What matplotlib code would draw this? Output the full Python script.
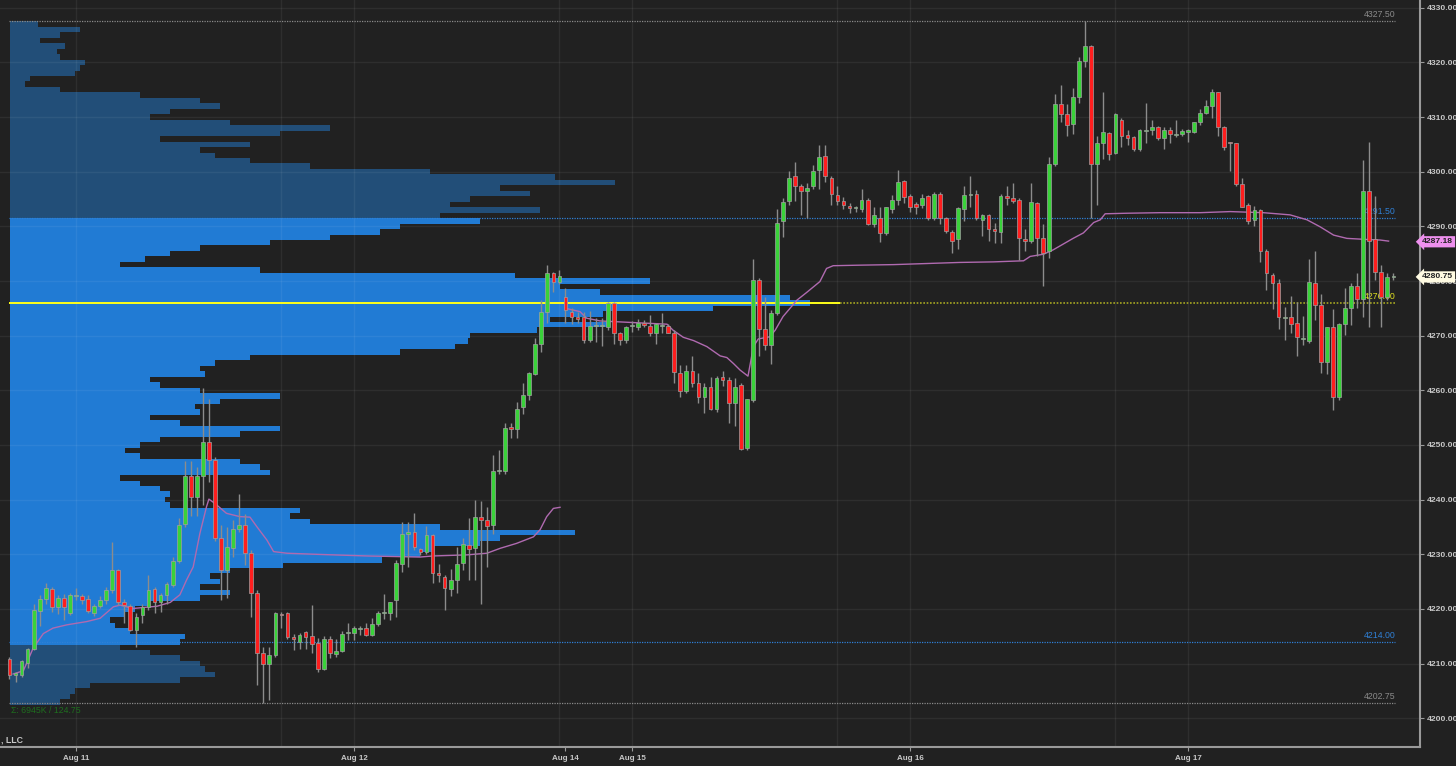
import matplotlib
matplotlib.use("Agg")
import matplotlib.pyplot as plt
import matplotlib.transforms as mtransforms
import numpy as np

# 30 minute bars, index 0 = first bar on the chart
opens = [
    4210.8, 4208.0, 4207.9, 4210.1, 4212.6, 4219.6, 4221.8, 4223.6, 4220.3, 4222.1,
    4219.2, 4222.4, 4222.4, 4221.8, 4219.2, 4220.5, 4221.6, 4223.4, 4227.1, 4221.3,
    4220.5, 4216.2, 4218.9, 4220.3, 4223.6, 4221.3, 4222.6, 4224.4, 4228.7, 4235.5,
    4244.3, 4240.5, 4244.3, 4250.5, 4247.2, 4232.9, 4227.1, 4231.1, 4234.6, 4235.4,
    4230.3, 4223.0, 4212.0, 4209.9, 4211.6, 4219.1, 4219.2, 4214.8, 4213.9, 4215.7,
    4215.1, 4213.8, 4209.1, 4214.5, 4211.8, 4212.4, 4215.6, 4215.6, 4216.4, 4216.5,
    4215.2, 4217.3, 4219.3, 4219.2, 4221.6, 4228.2, 4233.8, 4234.1, 4230.9, 4230.5,
    4233.5, 4226.6, 4225.9, 4223.6, 4225.3, 4228.4, 4231.7, 4231.2, 4236.9, 4236.2,
    4235.4, 4245.2, 4245.3, 4253.3, 4252.9, 4256.9, 4259.1, 4263.0, 4268.4, 4274.4,
    4281.4, 4279.9, 4277.1, 4274.4, 4273.5, 4273.5, 4269.2, 4271.8, 4271.8, 4271.5,
    4275.9, 4270.4, 4269.2, 4271.8, 4271.5, 4272.4, 4271.8, 4270.4, 4271.8, 4271.8,
    4270.5, 4263.1, 4259.8, 4263.6, 4261.4, 4258.8, 4260.7, 4256.5, 4262.5, 4261.9,
    4257.6, 4261.0, 4249.4, 4258.2, 4280.2, 4271.2, 4268.3, 4274.2, 4290.9, 4294.7,
    4299.3, 4297.3, 4296.5, 4297.3, 4300.4, 4302.9, 4298.9, 4295.7, 4294.7, 4293.7,
    4293.3, 4293.2, 4294.9, 4290.4, 4291.6, 4288.7, 4293.2, 4294.9, 4298.3, 4295.6,
    4294.1, 4293.9, 4295.5, 4291.6, 4296.0, 4291.5, 4289.0, 4287.6, 4293.2, 4295.7,
    4296.0, 4291.2, 4292.0, 4289.6, 4288.9, 4295.6, 4295.1, 4294.9, 4287.7, 4287.4,
    4294.2, 4287.9, 4285.4, 4301.4, 4312.4, 4310.5, 4308.7, 4313.7, 4320.2, 4323.0,
    4301.4, 4305.2, 4307.0, 4303.4, 4309.5, 4306.7, 4306.3, 4304.1, 4307.5, 4307.7,
    4308.1, 4306.1, 4307.7, 4306.7, 4306.9, 4307.3, 4307.3, 4309.0, 4310.7, 4312.0,
    4314.5, 4308.2, 4305.4, 4305.2, 4297.7, 4293.9, 4291.2, 4293.0, 4285.5, 4281.1,
    4279.7, 4273.2, 4273.4, 4272.3, 4269.4, 4269.1, 4279.7, 4275.6, 4265.1, 4271.5,
    4258.8, 4272.1, 4275.1, 4279.0, 4276.8, 4296.5, 4287.6, 4281.6, 4277.0, 4280.7,
]
highs = [
    4211.2, 4208.5, 4210.7, 4212.8, 4220.9, 4222.6, 4224.7, 4224.0, 4222.6, 4222.7,
    4222.9, 4223.8, 4222.7, 4222.6, 4221.0, 4222.3, 4224.0, 4232.3, 4227.4, 4221.9,
    4221.0, 4219.2, 4221.0, 4226.2, 4224.0, 4222.9, 4225.0, 4229.6, 4236.6, 4247.1,
    4247.1, 4245.9, 4260.5, 4258.5, 4247.8, 4235.4, 4235.0, 4236.3, 4241.0, 4237.4,
    4230.8, 4223.5, 4213.1, 4213.1, 4219.5, 4219.5, 4219.5, 4215.5, 4215.6, 4215.9,
    4220.7, 4214.6, 4215.0, 4215.0, 4214.5, 4216.0, 4217.4, 4216.8, 4216.9, 4217.4,
    4218.3, 4219.7, 4222.7, 4221.3, 4229.0, 4236.0, 4236.0, 4237.5, 4231.2, 4235.2,
    4233.7, 4228.2, 4226.2, 4227.4, 4231.4, 4232.9, 4236.6, 4239.9, 4239.8, 4238.6,
    4248.2, 4249.1, 4254.0, 4254.0, 4257.8, 4261.3, 4263.4, 4269.5, 4276.5, 4282.9,
    4281.7, 4282.1, 4278.7, 4275.0, 4274.4, 4274.4, 4274.5, 4273.2, 4273.2, 4276.2,
    4276.2, 4270.7, 4271.8, 4272.6, 4273.0, 4272.9, 4273.8, 4272.4, 4274.1, 4272.1,
    4271.0, 4264.6, 4264.6, 4266.3, 4263.2, 4261.3, 4262.5, 4262.6, 4263.6, 4262.5,
    4262.2, 4261.4, 4258.5, 4284.1, 4280.5, 4277.1, 4274.7, 4293.2, 4295.1, 4300.1,
    4301.7, 4297.7, 4297.9, 4301.2, 4304.9, 4304.9, 4299.3, 4297.3, 4295.4, 4294.2,
    4293.7, 4296.8, 4295.1, 4293.6, 4293.6, 4293.6, 4295.7, 4300.4, 4298.5, 4296.0,
    4294.5, 4295.9, 4295.7, 4296.2, 4296.2, 4291.8, 4289.3, 4293.6, 4297.4, 4299.2,
    4296.6, 4292.2, 4292.2, 4290.7, 4295.9, 4297.3, 4297.9, 4295.1, 4289.5, 4297.9,
    4294.5, 4290.5, 4302.6, 4314.2, 4315.9, 4312.4, 4315.4, 4321.0, 4327.5, 4323.2,
    4306.5, 4314.6, 4307.3, 4310.7, 4309.8, 4307.7, 4306.5, 4307.9, 4312.6, 4309.5,
    4308.4, 4308.2, 4308.2, 4309.5, 4307.8, 4307.9, 4309.1, 4311.4, 4313.2, 4315.2,
    4314.6, 4308.4, 4305.5, 4305.3, 4298.8, 4294.3, 4293.7, 4293.1, 4285.8, 4281.5,
    4280.3, 4275.3, 4277.3, 4276.2, 4273.6, 4284.1, 4285.4, 4277.7, 4271.5, 4274.8,
    4272.3, 4278.7, 4279.6, 4281.4, 4302.1, 4305.5, 4295.5, 4282.9, 4281.5, 4281.5,
]
lows = [
    4207.1, 4206.7, 4207.6, 4209.2, 4212.5, 4216.8, 4221.0, 4219.5, 4219.1, 4218.0,
    4218.9, 4221.6, 4221.0, 4219.2, 4218.7, 4220.1, 4221.0, 4222.9, 4220.7, 4217.4,
    4215.9, 4213.1, 4217.4, 4219.8, 4219.2, 4219.5, 4221.0, 4224.0, 4228.4, 4235.0,
    4237.0, 4237.0, 4239.0, 4243.2, 4232.5, 4221.6, 4222.0, 4229.6, 4234.1, 4228.0,
    4218.6, 4206.1, 4202.75, 4203.4, 4211.3, 4216.5, 4214.5, 4212.5, 4212.7, 4212.7,
    4212.0, 4208.4, 4208.8, 4211.1, 4211.2, 4212.2, 4214.3, 4214.3, 4215.3, 4215.0,
    4215.0, 4216.9, 4218.1, 4218.0, 4218.6, 4226.8, 4227.7, 4230.8, 4229.9, 4230.1,
    4224.8, 4225.0, 4219.8, 4222.4, 4222.9, 4227.1, 4225.3, 4225.3, 4221.0, 4227.7,
    4233.8, 4244.7, 4244.7, 4251.2, 4251.2, 4255.7, 4258.2, 4262.8, 4267.1, 4272.3,
    4277.9, 4279.4, 4272.3, 4272.1, 4272.3, 4268.7, 4268.9, 4268.9, 4268.1, 4271.0,
    4268.5, 4268.3, 4268.6, 4270.7, 4271.1, 4271.6, 4269.9, 4268.5, 4270.4, 4270.4,
    4261.4, 4258.8, 4259.5, 4260.7, 4257.6, 4255.9, 4256.4, 4256.0, 4260.8, 4254.0,
    4253.5, 4249.1, 4249.1, 4257.9, 4266.3, 4267.4, 4264.9, 4273.8, 4288.0, 4293.9,
    4294.7, 4292.0, 4291.6, 4296.9, 4296.9, 4298.2, 4293.9, 4293.9, 4293.2, 4292.5,
    4292.7, 4292.7, 4290.2, 4289.9, 4287.2, 4288.4, 4292.4, 4293.9, 4294.2, 4292.7,
    4292.2, 4293.3, 4291.2, 4291.2, 4290.5, 4288.7, 4285.1, 4285.8, 4290.9, 4293.6,
    4291.2, 4288.2, 4287.4, 4286.9, 4286.9, 4293.9, 4294.2, 4283.8, 4285.5, 4286.9,
    4284.5, 4279.0, 4284.3, 4301.0, 4309.1, 4306.5, 4306.9, 4312.6, 4319.2, 4291.6,
    4293.9, 4302.4, 4302.1, 4303.2, 4304.6, 4304.9, 4303.8, 4303.8, 4305.2, 4306.7,
    4305.8, 4304.1, 4305.3, 4306.4, 4306.5, 4305.5, 4307.0, 4308.6, 4310.5, 4309.8,
    4306.5, 4304.0, 4300.2, 4297.4, 4293.5, 4290.5, 4290.1, 4283.5, 4278.4, 4274.8,
    4271.2, 4269.3, 4270.4, 4266.3, 4268.3, 4268.6, 4272.8, 4263.1, 4263.0, 4256.4,
    4258.3, 4270.1, 4272.0, 4275.0, 4273.5, 4271.6, 4280.2, 4271.6, 4276.5, 4280.2,
]
closes = [
    4207.9, 4208.3, 4210.4, 4212.6, 4219.8, 4221.8, 4223.8, 4220.3, 4222.1, 4220.4,
    4222.6, 4222.5, 4221.6, 4219.6, 4220.5, 4221.6, 4223.4, 4227.1, 4221.3, 4220.7,
    4216.2, 4218.6, 4220.3, 4223.4, 4221.3, 4222.6, 4224.6, 4228.7, 4235.4, 4244.3,
    4240.5, 4244.3, 4250.5, 4247.2, 4232.9, 4227.1, 4231.4, 4234.6, 4235.4, 4230.2,
    4222.9, 4212.0, 4209.9, 4211.6, 4219.2, 4218.9, 4214.8, 4214.5, 4215.2, 4214.8,
    4213.6, 4209.1, 4214.5, 4212.0, 4212.4, 4215.5, 4215.6, 4216.5, 4216.5, 4215.2,
    4217.3, 4219.3, 4219.3, 4221.3, 4228.4, 4233.8, 4234.1, 4231.4, 4230.4, 4233.5,
    4226.6, 4226.2, 4223.8, 4225.3, 4228.2, 4231.8, 4230.9, 4236.9, 4236.2, 4235.1,
    4245.2, 4245.3, 4253.2, 4252.9, 4256.6, 4259.1, 4263.1, 4268.4, 4274.4, 4281.4,
    4279.9, 4280.9, 4274.7, 4273.5, 4273.0, 4269.2, 4271.8, 4271.8, 4271.8, 4275.9,
    4270.4, 4269.2, 4271.5, 4271.8, 4272.3, 4271.9, 4270.4, 4272.1, 4271.8, 4270.5,
    4263.4, 4259.8, 4263.6, 4261.4, 4258.7, 4260.7, 4256.5, 4262.2, 4261.9, 4257.6,
    4260.7, 4249.3, 4258.4, 4280.2, 4271.2, 4268.3, 4274.2, 4290.7, 4294.5, 4298.9,
    4297.3, 4296.5, 4297.0, 4300.2, 4302.7, 4299.3, 4296.0, 4294.7, 4293.9, 4293.4,
    4293.3, 4294.9, 4290.4, 4292.0, 4288.7, 4293.5, 4294.9, 4298.2, 4295.4, 4293.6,
    4293.6, 4295.2, 4291.6, 4296.0, 4291.5, 4289.2, 4287.4, 4293.3, 4295.7, 4295.7,
    4291.5, 4292.0, 4289.5, 4289.2, 4295.6, 4295.2, 4294.7, 4287.9, 4287.4, 4294.5,
    4287.8, 4285.2, 4301.4, 4312.4, 4310.5, 4308.5, 4313.7, 4320.2, 4323.0, 4301.4,
    4305.2, 4307.2, 4303.2, 4310.5, 4306.5, 4306.1, 4304.1, 4307.7, 4307.5, 4308.2,
    4306.1, 4307.7, 4306.9, 4306.7, 4307.5, 4307.7, 4309.0, 4310.7, 4312.0, 4314.5,
    4308.2, 4304.6, 4305.3, 4297.7, 4293.6, 4290.9, 4293.0, 4285.4, 4281.4, 4279.7,
    4273.5, 4273.2, 4272.1, 4269.7, 4269.4, 4279.9, 4275.6, 4265.1, 4271.5, 4258.8,
    4272.1, 4275.1, 4279.0, 4276.8, 4296.5, 4287.4, 4281.6, 4277.0, 4280.7, 4280.75,
]

# session VWAP traces (bar index, price)
vwap1_x = [0.6, 2.3, 3.9, 5.6, 7.2, 9.5, 12.8, 15.0, 17.2, 18.3, 20.5, 24.4, 26.6, 28.2,
           29.3, 30.4, 31.5, 32.6, 33.0, 34.0, 35.9, 38.1, 39.8, 40.9, 42.6, 43.7, 45.9,
           50.8, 59.1, 67.9, 70.1, 75.7, 79.0, 81.2, 83.9, 86.7, 87.8, 88.9, 90.0, 91.1]
vwap1_y = [4208.1, 4208.7, 4212.8, 4215.5, 4216.5, 4217.1, 4217.7, 4218.3, 4220.4, 4220.7,
           4220.1, 4220.5, 4221.2, 4222.6, 4225.3, 4227.7, 4233.8, 4238.7, 4240.1, 4239.3,
           4237.5, 4236.9, 4236.8, 4235.1, 4232.6, 4230.5, 4230.2, 4230.0, 4229.7, 4229.5,
           4229.7, 4229.9, 4230.2, 4231.1, 4232.0, 4233.2, 4234.5, 4236.9, 4238.4, 4238.6]
vwap2_x = [92.0, 94.4, 95.5, 97.7, 103.2, 108.8, 109.8, 111.5, 113.2, 115.4, 117.6, 118.7,
           119.8, 120.9, 122.2, 123.1, 123.9, 125.8, 126.7, 128.0, 130.3, 131.9, 134.1,
           135.2, 136.3, 140.7, 146.3, 151.8, 157.3, 162.8, 167.8, 168.9, 171.1, 172.7,
           176.0, 177.7, 179.4, 180.5, 181.3, 184.9, 190.4, 197.0, 202.0, 207.5, 211.9,
           214.7, 216.9, 219.1, 221.3, 224.6, 226.8, 228.2]
vwap2_y = [4275.0, 4274.4, 4273.2, 4272.7, 4272.4, 4272.1, 4271.0, 4269.7, 4269.1, 4268.0,
           4266.3, 4266.0, 4264.9, 4263.7, 4262.6, 4268.0, 4269.4, 4269.8, 4271.0, 4273.5,
           4276.5, 4277.9, 4279.9, 4282.3, 4282.8, 4282.9, 4283.0, 4283.2, 4283.4, 4283.5,
           4283.7, 4284.5, 4284.9, 4285.7, 4287.8, 4288.8, 4290.7, 4291.2, 4292.3, 4292.4,
           4292.5, 4292.5, 4292.7, 4292.5, 4292.1, 4291.2, 4289.9, 4288.4, 4287.8, 4287.6,
           4287.5, 4287.3]
vwap_last = 4287.18

# volume profile, one row per point (top 4327 -> bottom 4203)
profile_prices = list(range(4327, 4202, -1))
profile_vol = [
    28, 70, 50, 30, 55, 47, 50, 75, 70, 65,
    20, 15, 50, 130, 190, 210, 160, 140, 220, 320,
    270, 150, 240, 190, 205, 240, 300, 420, 545, 605,
    490, 520, 460, 440, 530, 430, 470, 390, 370, 320,
    260, 190, 160, 135, 110, 250, 505, 640, 550, 590,
    780, 800, 703, 593, 540, 597, 527, 460, 458, 445,
    390, 240, 205, 190, 195, 140, 150, 190, 270, 210,
    185, 190, 140, 170, 270, 230, 150, 130, 115, 130,
    230, 250, 260, 110, 130, 150, 160, 155, 160, 290,
    280, 300, 430, 565, 490, 470, 423, 410, 372, 273,
    220, 200, 210, 190, 220, 190, 140, 125, 115, 100,
    105, 120, 175, 170, 110, 140, 170, 190, 195, 205,
    170, 80, 65, 60, 50,
]
va_low, va_high, poc = 4214.00, 4291.50, 4276.00
prof_high, prof_low = 4327.50, 4202.75

date_ticks = [11, 57, 92, 103, 149, 195]
date_labels = ['Aug 11', 'Aug 12', 'Aug 14', 'Aug 15', 'Aug 16', 'Aug 17']
session_lines = [11, 45, 57, 91, 103, 137, 149, 183, 195]

BG = '#212121'
GREEN = '#3ad23a'
RED = '#ff1e1e'


def plot_chart():
    fig = plt.figure(figsize=(14.56, 7.66), dpi=100, facecolor=BG)
    plt.rcParams['font.family'] = ['Liberation Sans', 'DejaVu Sans']
    ax = fig.add_axes([0, 19 / 766, 1420 / 1456, 747 / 766])
    ax.set_xlim(-1.57, 233.4)
    ax.set_ylim(4194.75, 4331.41)

    # volume profile lives on its own x scale behind the candles
    axv = ax.twiny()
    axv.set_xlim(-10, 1410)
    axv.set_zorder(0)
    ax.set_zorder(1)
    ax.patch.set_visible(False)
    axv.patch.set_facecolor(BG)
    pcol = ['#217bd4' if va_low <= p <= va_high - 0.5 else '#224e78' for p in profile_prices]
    axv.barh(profile_prices, profile_vol, height=1.0, left=0, color=pcol, linewidth=0)
    axv.set_xticks([])
    for s in axv.spines.values():
        s.set_visible(False)

    # grid
    for x in session_lines:
        ax.axvline(x, color='white', alpha=0.06, lw=1, zorder=0.5)
    for y in range(4200, 4331, 10):
        ax.axhline(y, color='white', alpha=0.06, lw=1, zorder=0.5)

    # level lines
    dot = (0, (1, 1))
    ax.hlines(prof_high, 0, 229.3, colors='#8a8a8a', linestyles=dot, lw=0.9, zorder=2)
    ax.hlines(prof_low, 0, 229.3, colors='#8a8a8a', linestyles=dot, lw=0.9, zorder=2)
    ax.hlines([va_high, va_low], 0, 229.3, colors='#2f80d6', linestyles=dot, lw=0.9, zorder=2)
    ax.hlines(poc, 0, 137.4, colors='#ffff1a', lw=1.4, zorder=2)
    ax.hlines(poc, 137.4, 229.3, colors='#a6a622', linestyles=dot, lw=1.2, zorder=2)
    for lvl, col in [(prof_high, '#8a8a8a'), (va_high, '#2f80d6'), (poc, '#e0e020'),
                     (va_low, '#2f80d6'), (prof_low, '#8a8a8a')]:
        ax.text(229.3, lvl + 0.35, '%.2f' % lvl, ha='right', va='bottom',
                fontsize=6.3, color=col, zorder=2)

    # vwap
    ax.plot(vwap1_x, vwap1_y, color='#b06ab0', lw=1, zorder=3)
    ax.plot(vwap2_x, vwap2_y, color='#b06ab0', lw=1, zorder=3)

    # candles
    o = np.array(opens)
    c = np.array(closes)
    idx = np.arange(len(o))
    cols = np.where(c >= o, GREEN, RED)
    ax.vlines(idx, lows, highs, colors='#8c8c8c', lw=1, zorder=4)
    ax.bar(idx, np.maximum(np.abs(c - o), 0.15), bottom=np.minimum(o, c), width=0.62,
           color=cols, edgecolor='#a0a0a0', linewidth=0.5, zorder=5)

    # axes styling
    for k in ['top', 'left']:
        ax.spines[k].set_visible(False)
    for k in ['right', 'bottom']:
        ax.spines[k].set_color('#9a9a9a')
        ax.spines[k].set_linewidth(1.5)
    ax.yaxis.tick_right()
    ax.set_yticks(range(4200, 4331, 10))
    ax.set_yticklabels(['%.2f' % v for v in range(4200, 4331, 10)])
    ax.set_xticks(date_ticks)
    ax.set_xticklabels(date_labels)
    ax.tick_params(axis='y', direction='out', length=3, color='#9a9a9a',
                   labelcolor='#c8c8c8', labelsize=6.1, pad=2)
    ax.tick_params(axis='x', direction='out', length=3, color='#9a9a9a',
                   labelcolor='#c8c8c8', labelsize=5.8, pad=3)
    for t in ax.get_yticklabels() + ax.get_xticklabels():
        t.set_fontweight('bold')

    # price tags on the right axis
    tr = mtransforms.blended_transform_factory(fig.transFigure, ax.transData)
    for val, fc in [(vwap_last, '#ee90ee'), (closes[-1], '#fffbe2')]:
        ax.text(1453 / 1456, val, '%.2f' % val, transform=tr, ha='right', va='center',
                fontsize=6.1, fontweight='bold', color='#222222', zorder=6, clip_on=False,
                bbox=dict(boxstyle='larrow,pad=0.25', fc=fc, ec='none'))

    ax.text(0.3, prof_low - 0.5, '\u03a3: 6945K / 124.75', ha='left', va='top',
            fontsize=6.3, color='#1e6e1e', zorder=6)
    fig.text(1 / 1456, 1 - 740 / 766, ', LLC', ha='left',
             va='center', fontsize=6.3, fontweight='bold', color='#c8c8c8')
    return fig, ax


fig, ax = plot_chart()
fig.savefig('out.png', dpi=100, facecolor=BG)
